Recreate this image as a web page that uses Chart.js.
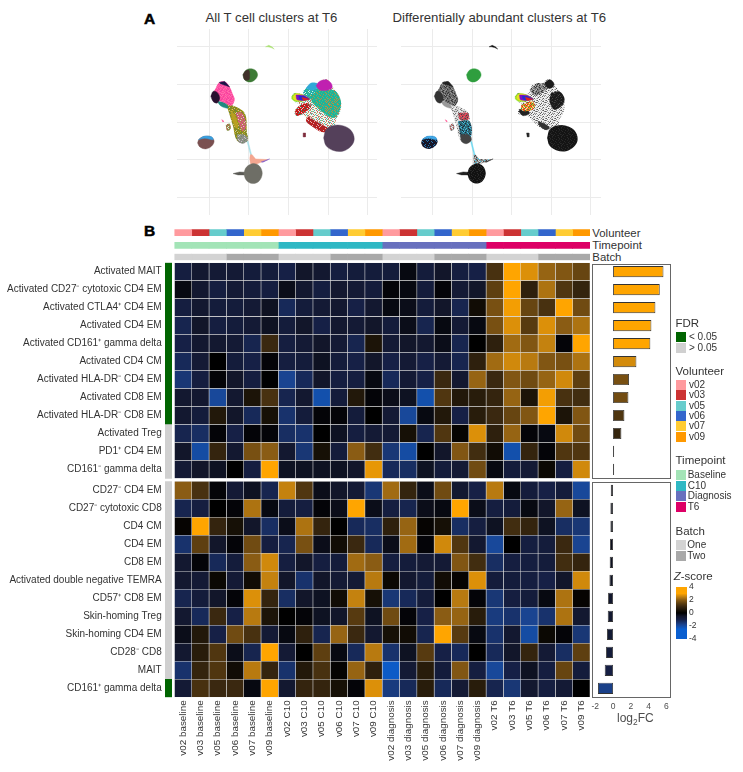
<!DOCTYPE html>
<html>
<head>
<meta charset="utf-8">
<title>T cell clusters at T6</title>
<script src="https://cdn.jsdelivr.net/npm/chart.js@4/dist/chart.umd.min.js"></script>
<style>
    body { margin: 0; background: #fff; }
    #page { position: relative; width: 743px; height: 772px; overflow: hidden; font-family: "Liberation Sans", Arial, sans-serif; color: #333; }
    #page canvas { position: absolute; }
    .txt { position: absolute; white-space: nowrap; transform: translateY(-50%); line-height: 1; }
    .box { position: absolute; box-sizing: border-box; }
    sub { font-size: 70%; line-height: 0; }
</style>
</head>
<body>
<div id="page"></div>
<script>
// ---- heatmap data ----
const volunteers = ['v02', 'v03', 'v05', 'v06', 'v07', 'v09'];
const timepoints = ['Baseline', 'C10', 'Diagnosis', 'T6'];
const batches = ['One', 'Two'];
const batchOfVolunteer = ['One', 'One', 'One', 'Two', 'Two', 'Two'];

const columnLabels = [
    'v02 baseline', 'v03 baseline', 'v05 baseline', 'v06 baseline', 'v07 baseline', 'v09 baseline',
    'v02 C10', 'v03 C10', 'v05 C10', 'v06 C10', 'v07 C10', 'v09 C10',
    'v02 diagnosis', 'v03 diagnosis', 'v05 diagnosis', 'v06 diagnosis', 'v07 diagnosis', 'v09 diagnosis',
    'v02 T6', 'v03 T6', 'v05 T6', 'v06 T6', 'v07 T6', 'v09 T6'
];

const upClusters = [
    'Activated MAIT', 'Activated CD27⁻ cytotoxic CD4 EM', 'Activated CTLA4⁺ CD4 EM', 'Activated CD4 EM',
    'Activated CD161⁺ gamma delta', 'Activated CD4 CM', 'Activated HLA-DR⁻ CD4 EM', 'Activated CD8 EM',
    'Activated HLA-DR⁻ CD8 EM', 'Activated Treg', 'PD1⁺ CD4 EM', 'CD161⁻ gamma delta'
];
const downClusters = [
    'CD27⁻ CD4 EM', 'CD27⁻ cytotoxic CD8', 'CD4 CM', 'CD4 EM', 'CD8 EM', 'Activated double negative TEMRA',
    'CD57⁺ CD8 EM', 'Skin-homing Treg', 'Skin-homing CD4 EM', 'CD28⁻ CD8', 'MAIT', 'CD161⁺ gamma delta'
];

const upFdr = ['<', '<', '<', '<', '<', '<', '<', '<', '<', '>', '>', '>'];
const downFdr = ['>', '>', '>', '>', '>', '>', '>', '>', '>', '>', '>', '<'];

const upLog2FC = [5.68, 5.26, 4.77, 4.32, 4.2, 2.63, 1.8, 1.73, 1.28, 0.94, 0.12, 0.12];
const downLog2FC = [-0.26, -0.3, -0.3, -0.34, -0.38, -0.41, -0.56, -0.6, -0.68, -0.79, -0.94, -1.7];

const upZ = [
    [-0.9, -0.6, -0.7, -0.7, -0.8, -0.8, -1, -0.5, -0.6, -0.9, -0.8, -0.8, -0.8, -0.2, -0.8, -0.5, -0.9, -1, 1.2, 3, 2.7, 2.1, 1.9, 1.6],
    [-0.2, -0.6, -0.9, -0.7, -0.8, -0.9, -0.3, -0.6, -0.9, -0.6, -0.7, -0.8, -0.1, -0.2, -0.8, -0.1, -0.7, -0.5, 1.5, 3, 0.8, 2.3, 1.3, 0.9],
    [-0.9, -0.6, -0.8, -0.8, -0.7, -0.4, -1.2, -0.8, -0.7, -0.6, -1, -0.6, -0.2, -0.3, -0.8, -0.5, -1.1, 0.3, 1.8, 2.9, 1.6, 1.2, 3, 1.7],
    [-1.1, -0.5, -0.9, -0.8, -0.7, -0.4, -0.8, -0.5, -1, -0.6, -0.7, -0.5, -0.8, -0.3, -1.1, -0.2, -0.7, -0.2, 1.8, 2.7, 1.4, 2.7, 2, 2.3],
    [-1, -0.6, -0.6, -0.7, -1.1, 1, -0.9, -0.7, -0.5, -0.7, -1.1, 0.5, -0.7, -0.5, -0.6, -0.3, -1.1, 0, 0.8, 2.2, 1.9, 2.5, -0.1, 3],
    [-1.2, -0.7, 0, -0.8, -1, -0.1, -0.9, -0.8, -0.4, -0.8, -1, -0.5, -1, -0.7, -1, -0.7, -1.1, 0.8, 2.2, 2.6, 2.4, 1.9, 1.8, 2.3],
    [-1.5, -0.9, -0.1, -0.5, -0.9, 0, -1.8, -1.2, -0.5, -0.9, -0.9, -0.2, -1.2, -0.7, -1, 1, -0.6, 2.1, 1, 1.9, 1.7, 2.1, 2.6, 1.5],
    [-0.6, -0.6, -1.9, -0.6, 0.5, 1.2, -1.1, -0.6, -2.1, -0.8, 0.6, -0.1, -0.3, -0.4, -2.1, 1.3, 0.6, 0.7, 0.9, 2.1, 0.5, 2.9, 1.2, 1.1],
    [-0.6, -0.8, 0.6, -0.5, -1.2, 0.4, -1.4, -0.8, -0.1, -0.1, -0.8, 0, -0.7, -1.9, -0.2, 0.6, -1, 0.7, 1, 1.6, 1.9, 3, 0.5, 1.9],
    [-1.1, -1.3, -0.1, -1, -0.1, -0.1, -1.3, -1.4, 0, -0.4, -0.9, -0.7, -0.7, 0.4, -1.1, 1.3, 0.1, 2.7, 0.8, 2.1, -0.1, -0.2, 2.6, 1.7],
    [-0.5, -2, 0.9, -0.6, 1.8, 2, -0.6, -1.5, 0.4, -0.8, 2, 1.1, -1.5, -2, 0, -0.5, 1.9, 1.1, 0.3, -2.1, 0.9, -0.1, 1.3, 1.3],
    [-0.7, -0.5, -0.4, 0, -0.9, 3, -0.4, -0.4, -0.4, -0.4, -0.5, 2.8, -1.2, -1.3, -0.4, -0.8, -0.7, 1.7, -0.2, -0.8, -0.7, 0.2, -0.9, 2.6]
];
const downZ = [
    [2, 1.2, -0.1, -0.7, -0.4, -1.1, 2.5, 1.3, -0.3, -0.5, -0.7, -1.5, 2.2, 0.9, -0.3, 1.7, -0.6, -1, 2.4, -0.2, -0.8, -1, -0.8, -1.9],
    [-1.1, -0.9, 0, -0.1, 2.3, -0.2, -0.8, -0.9, -0.1, -0.3, 3, -0.3, -0.9, -1.1, -0.3, -0.2, 3, -0.3, -0.9, -0.8, -0.2, -0.5, 2.1, -0.4],
    [0.1, 3, 0.9, 0.4, -0.5, -1.3, -0.3, 2.3, 0.9, 0, -1.2, -1.3, 0.8, 2.1, 0.1, 0.4, -1.3, -0.9, -0.4, 1.1, 0.9, -0.4, -1.3, -1.5],
    [-1.4, 1.5, -0.5, -0.1, 1.7, -0.9, -1.1, 1.8, -0.3, 0.3, 1, -1.2, -0.3, 2.2, -0.1, 2.6, 1.3, -0.6, -1.9, 0, -0.9, -0.8, 1, -1.8],
    [-0.6, -0.1, -1.2, -0.8, 2, 2.6, -0.9, -0.5, -0.9, -0.8, 2.2, 2, -0.9, -0.8, -0.7, -0.7, 1.9, 1.1, -1.3, -0.9, -0.9, -0.8, 1.1, 0.9],
    [-0.6, -0.7, 0.2, -0.7, 0.3, 2.5, -0.5, -1.4, -0.5, -0.7, -0.7, 2.4, 0.2, -0.6, -0.8, 0.3, 0.1, 2.7, -0.8, -0.8, -0.9, -1, -0.5, 2.6],
    [-1.1, -0.8, -0.5, -0.1, 2.7, 0.9, -1.3, -0.5, -0.4, 0.3, 2.5, 0.4, -1.5, -1.2, -0.8, 0, 2.4, -0.1, -1.5, -0.9, -0.8, -0.2, 2.3, 0.1],
    [-0.6, -1.2, 1, -1, 2.4, 0.5, 0, -0.1, -0.4, -0.5, 1.4, -0.4, 1.7, -0.1, -1, 2, 2.1, 0.7, -1.6, -1.4, -1.8, -1.4, 2.3, -0.6],
    [-0.3, 0.6, -1, 1.7, 1.2, -0.7, -0.2, 0.8, -1.1, 2.1, 1, -0.6, 0.4, 0.3, -1.1, 3, 1.4, -0.2, -1.4, -0.6, -2, 0.2, -0.1, -1.5],
    [-0.6, 0.7, 1.3, -0.3, -1.1, 3, -0.7, 0, 1.5, -0.2, -1.2, 2.4, -1.4, -0.4, 1.4, -1, -1.2, 0, -1.2, -0.5, 0.9, -0.7, -1.3, 1.5],
    [-1.4, 0.9, 1.3, 0.3, 2.4, 0.9, -1.4, 0.6, 1.2, 0.1, 2.1, 0.8, -2.4, -0.7, 0.7, -0.8, 1.9, -0.9, -1.9, -1, -0.4, -0.9, 1.6, -0.8],
    [-0.7, 1.2, 1, 1, -0.2, 3, -0.6, 0.9, 0.9, 0.4, -0.1, 2.7, -1.6, -1.2, 0.7, -1.2, -0.7, 0.7, -1.1, -1.5, -0.6, -0.9, -0.7, 0]
];

// ---- UMAP outlines, in UMAP units ----
const umapArc = [[-2.9, 10], [-2.5, 10.2], [-2.1, 10], [-1.8, 9.7], [-2.2, 9.9], [-2.6, 10]];
const umapUpperBlob = [[-5.76, 6.28], [-5.42, 6.86], [-4.83, 7.08], [-4.16, 6.86], [-3.91, 6.24], [-4.24, 5.62], [-4.92, 5.31], [-5.55, 5.62]];
const umapUpperBlobLeft = [[-5.76, 6.28], [-5.42, 6.81], [-5, 6.86], [-4.92, 6.15], [-5, 5.62], [-5.55, 5.62]];
const umapCd4Body = [[-9.83, 3.41], [-9.33, 4.29], [-8.78, 5.27], [-8.07, 5.4], [-7.52, 4.82], [-7.02, 3.63], [-6.81, 2.96], [-7.23, 2.17], [-8.07, 2.52], [-9.03, 2.96]];
const umapCd4Edge = [[-8.78, 5.27], [-8.07, 5.4], [-7.44, 4.65], [-7.86, 4.82], [-8.61, 5.09]];
const umapCd4Left = [[-9.83, 3.41], [-9.54, 4.07], [-9.03, 3.94], [-8.7, 3.19], [-9.03, 2.52], [-9.54, 2.74]];
const umapCd4Foot = [[-9.03, 2.74], [-8.07, 2.61], [-7.65, 1.86], [-8.49, 2.08]];
const umapStalk = [[-7.94, 2.52], [-7.23, 2.3], [-5.55, 1.19], [-5.25, -1.46], [-5.13, -2.35], [-5.76, -2.79], [-6.6, -2.35], [-7.02, -0.58], [-7.52, 1.19]];
const umapStalkRight = [[-6.68, 1.19], [-5.97, 1.28], [-5.55, 0.53], [-5.42, -0.8], [-5.84, -1.24], [-6.39, 0.09]];
const umapStalkBase = [[-6.51, -1.68], [-5.55, -1.68], [-5.13, -2.35], [-5.76, -2.88], [-6.39, -2.57]];
const umapStalkGold = [[-7.23, 1.42], [-6.81, 0.97], [-6.39, -0.58], [-6.68, -0.8], [-7.23, 0.75]];
const umapStalkMid = [[-6.85, 0.09], [-5.38, 0.09], [-5.17, -1.9], [-6.22, -2.57]];
const umapStalkTop = [[-6.81, 1.19], [-5.55, 1.19], [-5.55, 0.31], [-6.6, 0.31]];
const umapIsletA = [[-7.94, -0.35], [-7.44, -0.22], [-7.31, -0.93], [-7.77, -1.15]];
const umapIsletB = [[-8.45, 0.31], [-8.19, 0.13], [-8.28, 0]];
const umapWestBlob = [[-11.51, -2.79], [-11.3, -2.26], [-10.59, -1.9], [-9.75, -1.99], [-9.41, -2.57], [-9.75, -3.23], [-10.46, -3.58], [-11.22, -3.32]];
const umapWestTop = [[-11.39, -2.35], [-10.71, -1.9], [-9.75, -1.95], [-9.54, -2.35], [-10.59, -2.17]];
const umapEastBlob = [[4.45, -2.12], [4.75, -1.02], [5.59, -0.49], [6.85, -0.49], [7.9, -1.11], [8.32, -2.26], [7.9, -3.23], [6.85, -3.89], [5.59, -3.76], [4.75, -3.14]];
const umapSouthBlob = [[-5.67, -6.86], [-5.34, -6.02], [-4.5, -5.53], [-3.66, -5.88], [-3.32, -6.86], [-3.74, -7.88], [-4.58, -8.19], [-5.34, -7.74]];
const umapThread = [[-5.25, -2.57], [-5.1, -2.57], [-4.62, -4.56], [-4.78, -4.56]];
const umapSpike = [[-4.83, -4.34], [-4.6, -4.34], [-4.16, -4.91], [-2.61, -5], [-3.87, -5.53], [-4.29, -5.75], [-4.83, -5.53], [-4.9, -4.8]];
const umapSpikeTip = [[-3.45, -5.31], [-2.39, -4.91], [-3.24, -5.35]];
const umapTail = [[-7.02, -6.86], [-6.18, -6.64], [-5.55, -6.68], [-5.55, -7.04], [-6.39, -7.04]];
const umapCloud = [
    [0.42, 3.41], [0.76, 3.85], [2.02, 3.76], [2.65, 4.96], [3.91, 5.18], [4.33, 5.62], [4.96, 5.62], [5.38, 4.96], [6.01, 4.07], [6.64, 2.74], [6.55, 1.42],
    [6.01, 0.31], [5.8, -0.58], [4.96, -1.02], [3.91, -1.02], [2.65, 0.09], [1.81, 0.97], [0.84, 0.97], [0.84, 1.64], [1.39, 2.3], [0.76, 2.74]
];
const umapMain = [[2.65, 3.41], [3.91, 4.29], [5.17, 4.29], [6.01, 4.07], [6.64, 2.74], [6.43, 1.42], [5.8, 0.53], [4.75, 0.97], [3.7, 1.86], [3.07, 2.52]];
const umapMainWest = [[1.81, 4.07], [2.86, 4.96], [3.91, 4.6], [3.7, 3.4], [2.65, 3], [2.23, 2.96]];
const umapKnob = [[3.49, 4.82], [3.91, 5.4], [4.75, 5.62], [5.38, 5.18], [5.5, 4.51], [4.75, 4.2], [3.91, 4.29]];
const umapTopBlue = [[2.23, 4.51], [2.86, 5.18], [3.7, 5.09], [3.91, 4.65], [2.86, 4.2]];
const umapFan = [[0.42, 3.41], [0.84, 3.81], [1.81, 3.63], [2.65, 3.05], [1.6, 2.74], [0.84, 2.74], [0.42, 3.05]];
const umapFanB = [[0.62, 3.45], [1, 3.75], [1.9, 3.55], [2.65, 3.05], [1.6, 2.8], [0.95, 2.85], [0.62, 3.1]];
const umapFanC = [[0.95, 3.6], [1.9, 3.55], [2.65, 3.05], [1.7, 2.85], [1.05, 3]];
const umapFanD = [[1.3, 3.45], [2, 3.4], [2.65, 3.05], [1.8, 2.9], [1.4, 3.05]];
const umapFanE = [[1.7, 3.3], [2.65, 3.05], [1.95, 2.85], [1.8, 3]];
const umapUnderFan = [[1.18, 2.3], [2.65, 2.74], [2.86, 1.86], [1.81, 1.42], [1.18, 1.64]];
const umapRedLow = [[0.84, 1.42], [1.18, 1.99], [2.23, 2.52], [2.86, 2.08], [2.23, 1.42], [1.6, 0.97], [0.97, 0.84]];
const umapRedSweep = [[2.44, 0.75], [3.49, 0.09], [5.17, -1.02], [4.33, -1.37], [3.28, -0.8], [2.23, 0.09]];
const umapOrange = [[4.75, 2.96], [6.22, 2.96], [6.01, 1.64], [5.17, 1.19], [4.54, 1.64]];
const umapSmallSpot = [[1.85, -1.46], [2.14, -1.46], [2.14, -1.99], [1.93, -1.99]];
const umapDenseTop = [[4.96, 3.85], [6.01, 4.07], [6.64, 3.19], [6.43, 2.3], [5.38, 1.64], [4.75, 2.74]];
const umapDenseKnob = [[4.12, 5.18], [4.75, 5.62], [5.29, 5.18], [5.17, 4.65], [4.54, 4.51]];
const umapRidge = [[2.23, 4.29], [3.28, 5.18], [4.54, 4.65], [3.49, 3.63], [2.65, 3.63]];
const umapConnector = [[3.28, 0.09], [4.33, -0.35], [4.75, -0.8], [4.33, -1.02], [3.49, -0.49]];
const umapCorner = [[0.84, 1.42], [1.39, 1.86], [2.23, 1.19], [1.39, 0.84]];

// ---- colours ----
const VOLUNTEER_COLORS = { v02: '#ff9a9e', v03: '#cc3333', v05: '#66cccc', v06: '#3366cc', v07: '#ffcc33', v09: '#ff9900' };
const TIMEPOINT_COLORS = { Baseline: '#a3e4b7', C10: '#2fb8c4', Diagnosis: '#6870be', T6: '#dd0066' };
const BATCH_COLORS = { One: '#d3d3d3', Two: '#a9a9a9' };
const FDR_COLORS = { '<': '#006400', '>': '#d0d0d0' };
const Z_STOPS = [
    [-4, [10, 95, 208]], [-2.5, [10, 95, 208]], [-1.8, [26, 68, 145]], [-1, [22, 32, 70]], [-0.5, [18, 22, 42]],
    [0, [0, 0, 0]], [0.5, [28, 20, 8]], [1, [58, 40, 16]], [1.5, [94, 63, 16]], [2, [138, 92, 20]],
    [2.5, [196, 130, 15]], [3, [255, 165, 0]], [4, [255, 165, 0]]
];

function zColor(z) {
    const v = Math.max(-4, Math.min(4, z));
    for (let i = 1; i < Z_STOPS.length; i++) {
        if (v <= Z_STOPS[i][0]) {
            const [z0, c0] = Z_STOPS[i - 1];
            const [z1, c1] = Z_STOPS[i];
            const t = (v - z0) / (z1 - z0);
            const rgb = c0.map((c, k) => Math.round(c + (c1[k] - c) * t));
            return `rgb(${rgb.join(',')})`;
        }
    }
    return 'rgb(255,165,0)';
}

// small fixed tile so the dense UMAP areas look grainy instead of flat
const SPECK_MASK = [
    '001020130',
    '310002001',
    '002103020',
    '100030012',
    '020100301',
    '003012000',
    '210000230',
    '000320102',
    '130001020'
];

function speck(...colors) {
    const tile = document.createElement('canvas');
    tile.width = tile.height = SPECK_MASK.length;
    const ctx = tile.getContext('2d');
    SPECK_MASK.forEach((row, y) => {
        [...row].forEach((ch, x) => {
            ctx.fillStyle = colors[Number(ch)];
            ctx.fillRect(x, y, 1, 1);
        });
    });
    return ctx.createPattern(tile, 'repeat');
}

Chart.defaults.font.family = '"Liberation Sans", Arial, sans-serif';
Chart.defaults.animation = false;
Chart.defaults.responsive = false;
Chart.defaults.plugins.legend.display = false;
Chart.defaults.plugins.tooltip.enabled = false;

const PAGE = document.getElementById('page');

function addCanvas(left, top, width, height) {
    const canvas = document.createElement('canvas');
    canvas.width = width;
    canvas.height = height;
    canvas.style.left = left + 'px';
    canvas.style.top = top + 'px';
    PAGE.appendChild(canvas);
    return canvas;
}

function addText(html, x, y, size, extra) {
    const el = document.createElement('div');
    el.className = 'txt';
    el.innerHTML = html;
    el.style.left = x + 'px';
    el.style.top = y + 'px';
    el.style.fontSize = size + 'px';
    if (extra) Object.assign(el.style, extra);
    PAGE.appendChild(el);
}

function addBox(x, y, w, h, style) {
    const el = document.createElement('div');
    el.className = 'box';
    el.style.left = x + 'px';
    el.style.top = y + 'px';
    el.style.width = w + 'px';
    el.style.height = h + 'px';
    Object.assign(el.style, style);
    PAGE.appendChild(el);
}

/**
 * One row of heatmap columns coloured by category
 */
function createStrip(top, height, padTop, padBottom, colors) {
    return new Chart(addCanvas(174, top, 416, height), {
        type: 'bar',
        data: {
            labels: [''],
            datasets: colors.map(c => ({ data: [1], backgroundColor: c, barPercentage: 1, categoryPercentage: 1 }))
        },
        options: {
            indexAxis: 'y',
            layout: { padding: { left: 0.4, top: padTop, bottom: padBottom } },
            scales: {
                x: { display: false, stacked: true, min: 0, max: colors.length },
                y: { display: false, stacked: true }
            }
        }
    });
}

function createFdrStrip(top, padTop, padBottom, rows, levels) {
    return new Chart(addCanvas(165, top, 7, 217), {
        type: 'bar',
        data: {
            labels: rows,
            datasets: [{ data: rows.map(() => 1), backgroundColor: levels.map(l => FDR_COLORS[l]), barPercentage: 1, categoryPercentage: 1 }]
        },
        options: {
            indexAxis: 'y',
            layout: { padding: { top: padTop, bottom: padBottom } },
            scales: { x: { display: false, min: 0, max: 1 }, y: { display: false } }
        }
    });
}

function createHeatmap(top, height, padTop, padBottom, rows, z, showColumns) {
    return new Chart(addCanvas(0, top, 600, height), {
        type: 'bar',
        data: {
            labels: rows,
            datasets: columnLabels.map((label, c) => ({
                label: label,
                data: rows.map(() => 1),
                backgroundColor: z.map(row => zColor(row[c])),
                borderColor: '#d8d8d8',
                borderWidth: 0.6,
                borderSkipped: false,
                barPercentage: 1,
                categoryPercentage: 1
            }))
        },
        options: {
            indexAxis: 'y',
            layout: { padding: { top: padTop, right: 10, bottom: padBottom } },
            scales: {
                x: {
                    display: showColumns,
                    stacked: true,
                    min: 0,
                    max: columnLabels.length,
                    afterBuildTicks: scale => { scale.ticks = columnLabels.map((_, i) => ({ value: i + 0.5 })); },
                    afterFit: scale => {
                        scale.height = height - padTop - 216;
                        scale.paddingLeft = scale.paddingRight = 0;
                    },
                    grid: { display: false, drawTicks: false },
                    border: { display: false },
                    ticks: {
                        autoSkip: false,
                        minRotation: 90,
                        maxRotation: 90,
                        padding: 3,
                        color: '#333',
                        font: { size: 9.9 },
                        callback: (value, i) => columnLabels[i]
                    }
                },
                y: {
                    stacked: true,
                    afterFit: scale => {
                        scale.width = 174.4;
                        scale.paddingTop = scale.paddingBottom = 0;
                    },
                    grid: { display: false, tickLength: 12.7 },
                    border: { display: false },
                    ticks: { autoSkip: false, padding: 0, color: '#333', font: { size: 10 } }
                }
            }
        }
    });
}

function createFoldChange(top, height, padTop, rows, values, showAxis) {
    return new Chart(addCanvas(582, top, 98, height), {
        type: 'bar',
        data: {
            labels: rows,
            datasets: [{
                data: values,
                backgroundColor: values.map(zColor),
                borderColor: '#333',
                borderWidth: 0.9,
                borderSkipped: false,
                barPercentage: 0.62,
                categoryPercentage: 1
            }]
        },
        options: {
            indexAxis: 'y',
            layout: { padding: { left: 10.3, right: 9.7, top: padTop, bottom: showAxis ? 0 : height - padTop - 216 } },
            scales: {
                x: {
                    display: showAxis,
                    min: -2.34,
                    max: 6.45,
                    afterFit: scale => {
                        scale.height = height - padTop - 216;
                        scale.paddingLeft = scale.paddingRight = 0;
                    },
                    grid: { display: false, tickLength: 3, tickColor: '#666' },
                    border: { display: false },
                    ticks: { stepSize: 2, includeBounds: false, padding: 1, color: '#4d4d4d', font: { size: 8.5 }, maxRotation: 0 }
                },
                y: { display: false }
            }
        }
    });
}

// layers: each is [outline, colour or pattern, tension]
function createUmap(left, layers, xMin, xMax) {
    const DATASETS = layers.map(([shape, color, tension]) => ({
        data: shape.concat([shape[0]]).map(([x, y]) => ({ x, y })),
        showLine: true,
        fill: 'shape',
        backgroundColor: color,
        borderColor: typeof color === 'string' ? color : 'transparent',
        borderWidth: 0.4,
        pointRadius: 0,
        tension: tension === undefined ? 0.35 : tension
    })).reverse();
    const CANVAS = addCanvas(left, 29, 200, 186);
    CANVAS.style.filter = 'blur(0.6px)';
    return new Chart(CANVAS, {
        type: 'scatter',
        data: { datasets: DATASETS },
        options: {
            scales: {
                x: {
                    min: xMin, max: xMax,
                    grid: { color: '#ebebeb', drawTicks: false },
                    border: { display: false },
                    ticks: { display: false, stepSize: 5, includeBounds: false }
                },
                y: {
                    min: -12.37, max: 12.37,
                    grid: { color: '#ebebeb', drawTicks: false },
                    border: { display: false },
                    ticks: { display: false, stepSize: 5, includeBounds: false }
                }
            }
        }
    });
}

// ---- panel A ----
addText('<b>A</b>', 144, 19, 15.5, { color: '#000', webkitTextStroke: '0.5px #000' });
addText('All T cell clusters at T6', 205.5, 18, 13.2);
addText('Differentially abundant clusters at T6', 392.5, 18, 13.2);

createUmap(177, [
    [umapThread, '#a8dfe8', 0],
    [umapSpike, '#f4a690', 0],
    [umapSpikeTip, '#7a55c8', 0],
    [umapTail, '#5a5a55', 0],
    [umapSouthBlob, '#6e6e66'],
    [umapArc, '#a8e070', 0],
    [umapUpperBlob, '#3d7a35'],
    [umapUpperBlobLeft, '#40302a'],
    [umapStalk, speck('#8a8a1c', '#b8a020', '#6a8a40', '#c8c890')],
    [umapStalkRight, speck('#c85a70', '#b0a040', '#e06080', '#e8c8c8')],
    [umapStalkGold, '#b8a020'],
    [umapStalkBase, speck('#8e8e88', '#8e8e88', '#c8c8c8', '#6e8e68')],
    [umapCd4Foot, '#1f8a80'],
    [umapCd4Body, speck('#ff4fa0', '#ff70b0', '#f040a0', '#ff60b0')],
    [umapCd4Edge, '#1c1448', 0],
    [umapCd4Left, '#2a1030'],
    [umapIsletA, speck('#8a9a50', '#e8e8d8', '#c05050', '#8a9a50')],
    [umapIsletB, '#ff5090', 0],
    [umapWestBlob, '#7a5050'],
    [umapWestTop, '#38a0e0'],
    [umapCloud, speck('#f0f4f0', '#58c0a8', '#d06060', '#c8a060')],
    [umapRedSweep, speck('#b82020', '#b82020', '#e8b0b0', '#903040')],
    [umapMainWest, speck('#1fb59a', '#e0f0ec', '#40bc90', '#30a8d8')],
    [umapMain, speck('#1fb59a', '#24b090', '#b89040', '#40bc90')],
    [umapOrange, speck('#1fb59a', '#b89040', '#d08830', '#1fb59a')],
    [umapTopBlue, '#30a8d8'],
    [umapKnob, '#c020b0'],
    [umapRedLow, speck('#c81818', '#c81818', '#f0c0c0', '#20a080')],
    [umapFan, '#90e020', 0.2],
    [umapFanB, '#e8e020', 0.2],
    [umapFanC, '#8010c0', 0.2],
    [umapFanD, '#2030d0', 0.2],
    [umapFanE, '#e02020', 0.2],
    [umapSmallSpot, '#803040', 0],
    [umapEastBlob, '#54405a']
], -14.11, 11.2);

createUmap(401, [
    [umapThread, '#70d8f0', 0],
    [umapSpike, speck('#8a8a8a', '#444', '#d0d0d0', '#40c8e8'), 0],
    [umapSpikeTip, '#222', 0],
    [umapTail, '#222', 0],
    [umapSouthBlob, speck('#111', '#111', '#2a2a2a', '#222')],
    [umapArc, '#111', 0],
    [umapUpperBlob, '#2f9e3e'],
    [umapStalk, speck('#d8d8d8', '#777', '#f4f4f4', '#aaa')],
    [umapStalkTop, speck('#d04050', '#666', '#e06070', '#444')],
    [umapStalkMid, speck('#2a7080', '#48b8d8', '#223', '#356')],
    [umapStalkBase, '#444'],
    [umapCd4Foot, '#999'],
    [umapCd4Body, speck('#666', '#333', '#999', '#777')],
    [umapCd4Edge, '#222', 0],
    [umapCd4Left, '#333'],
    [umapIsletA, speck('#aaa', '#eee', '#c05050', '#666')],
    [umapIsletB, '#ff5090', 0],
    [umapWestBlob, speck('#14142a', '#2878b0', '#14142a', '#222')],
    [umapWestTop, '#40a8e8'],
    [umapCloud, speck('#f2f2f2', '#8a8a8a', '#c8c8c8', '#5a5a5a')],
    [umapRidge, speck('#777', '#333', '#bbb', '#999')],
    [umapDenseTop, speck('#1a1a1a', '#2a2a2a', '#1a1a1a', '#444')],
    [umapDenseKnob, '#1c1c1c'],
    [umapConnector, '#333'],
    [umapCorner, '#222'],
    [umapUnderFan, speck('#e89020', '#e02020', '#f0e0c0', '#30a040')],
    [umapFan, '#90e020', 0.2],
    [umapFanB, '#e8e020', 0.2],
    [umapFanC, '#8010c0', 0.2],
    [umapFanD, '#2030d0', 0.2],
    [umapFanE, '#e02020', 0.2],
    [umapSmallSpot, '#222', 0],
    [umapEastBlob, speck('#141414', '#141414', '#2a2a2a', '#222')]
], -14.05, 11.27);

// ---- panel B ----
addText('<b>B</b>', 144, 231, 15.5, { color: '#000', webkitTextStroke: '0.5px #000' });

const volunteerColumns = columnLabels.map((_, i) => volunteers[i % 6]);
const timepointColumns = columnLabels.map((_, i) => timepoints[Math.floor(i / 6)]);
const batchColumns = columnLabels.map((_, i) => batchOfVolunteer[i % 6]);

createStrip(229, 7, 0.3, 0, volunteerColumns.map(v => VOLUNTEER_COLORS[v]));
createStrip(242, 7, 0, 0.3, timepointColumns.map(t => TIMEPOINT_COLORS[t]));
createStrip(253, 8, 0.7, 0.7, batchColumns.map(b => BATCH_COLORS[b]));
addText('Volunteer', 592.3, 233.5, 11.4);
addText('Timepoint', 592.3, 245.5, 11.4);
addText('Batch', 592.3, 257.5, 11.4);

createFdrStrip(262, 0.7, 0.3, upClusters, upFdr);
createFdrStrip(481, 0.3, 0.7, downClusters, downFdr);

createHeatmap(262, 217, 0.7, 0.3, upClusters, upZ, false);
createHeatmap(481, 290, 0.3, 0, downClusters, downZ, true);

createFoldChange(262, 217, 0.7, upClusters, upLog2FC, false);
createFoldChange(481, 240, 0.3, downClusters, downLog2FC, true);
addBox(592, 263.5, 78.5, 215, { border: '1px solid #666' });
addBox(592, 481.5, 78.5, 216, { border: '1px solid #666' });
addText('log<sub>2</sub>FC', 617, 718, 12, { color: '#4d4d4d' });

// ---- legends ----
function legendGroup(title, titleY, items, labels, colors, firstY, stepY, labelX, size) {
    addText(title, 675.5, titleY, 11.5);
    items.forEach((item, i) => {
        const y = firstY + i * stepY;
        addBox(675.7, y - 5, 10, 10, { background: colors[item] });
        addText(labels[i], labelX, y, size);
    });
}

legendGroup('FDR', 324, ['<', '>'], ['&lt; 0.05', '&gt; 0.05'], FDR_COLORS, 337, 10.5, 689, 10);
legendGroup('Volunteer', 372, volunteers, volunteers, VOLUNTEER_COLORS, 384.7, 10.4, 689, 10);
legendGroup('Timepoint', 461.3, timepoints, timepoints, TIMEPOINT_COLORS, 475.3, 10.5, 687.7, 10);
legendGroup('Batch', 531.7, batches, batches, BATCH_COLORS, 544.7, 11, 687.3, 10);
addText('<i>Z</i>-score', 673.7, 577, 11.5);

new Chart(addCanvas(676, 583, 30, 60), {
    type: 'bar',
    data: {
        labels: [''],
        datasets: [{
            data: [[-4, 4]],
            barPercentage: 1,
            categoryPercentage: 1,
            backgroundColor: context => {
                const AREA = context.chart.chartArea;
                if (!AREA) return '#000';
                const GRAD = context.chart.ctx.createLinearGradient(0, AREA.top, 0, AREA.bottom);
                Z_STOPS.forEach(([z]) => GRAD.addColorStop((4 - z) / 8, zColor(z)));
                return GRAD;
            }
        }]
    },
    options: {
        layout: { padding: { top: 4, bottom: 4 } },
        scales: {
            x: { display: false },
            y: {
                position: 'right',
                min: -4,
                max: 4,
                afterFit: scale => {
                    scale.width = 19;
                    scale.paddingTop = scale.paddingBottom = 0;
                },
                grid: { display: false, drawTicks: false },
                border: { display: false },
                ticks: { stepSize: 2, autoSkip: false, padding: 2, color: '#333', font: { size: 8.5 } }
            }
        }
    }
});
</script>
</body>
</html>
